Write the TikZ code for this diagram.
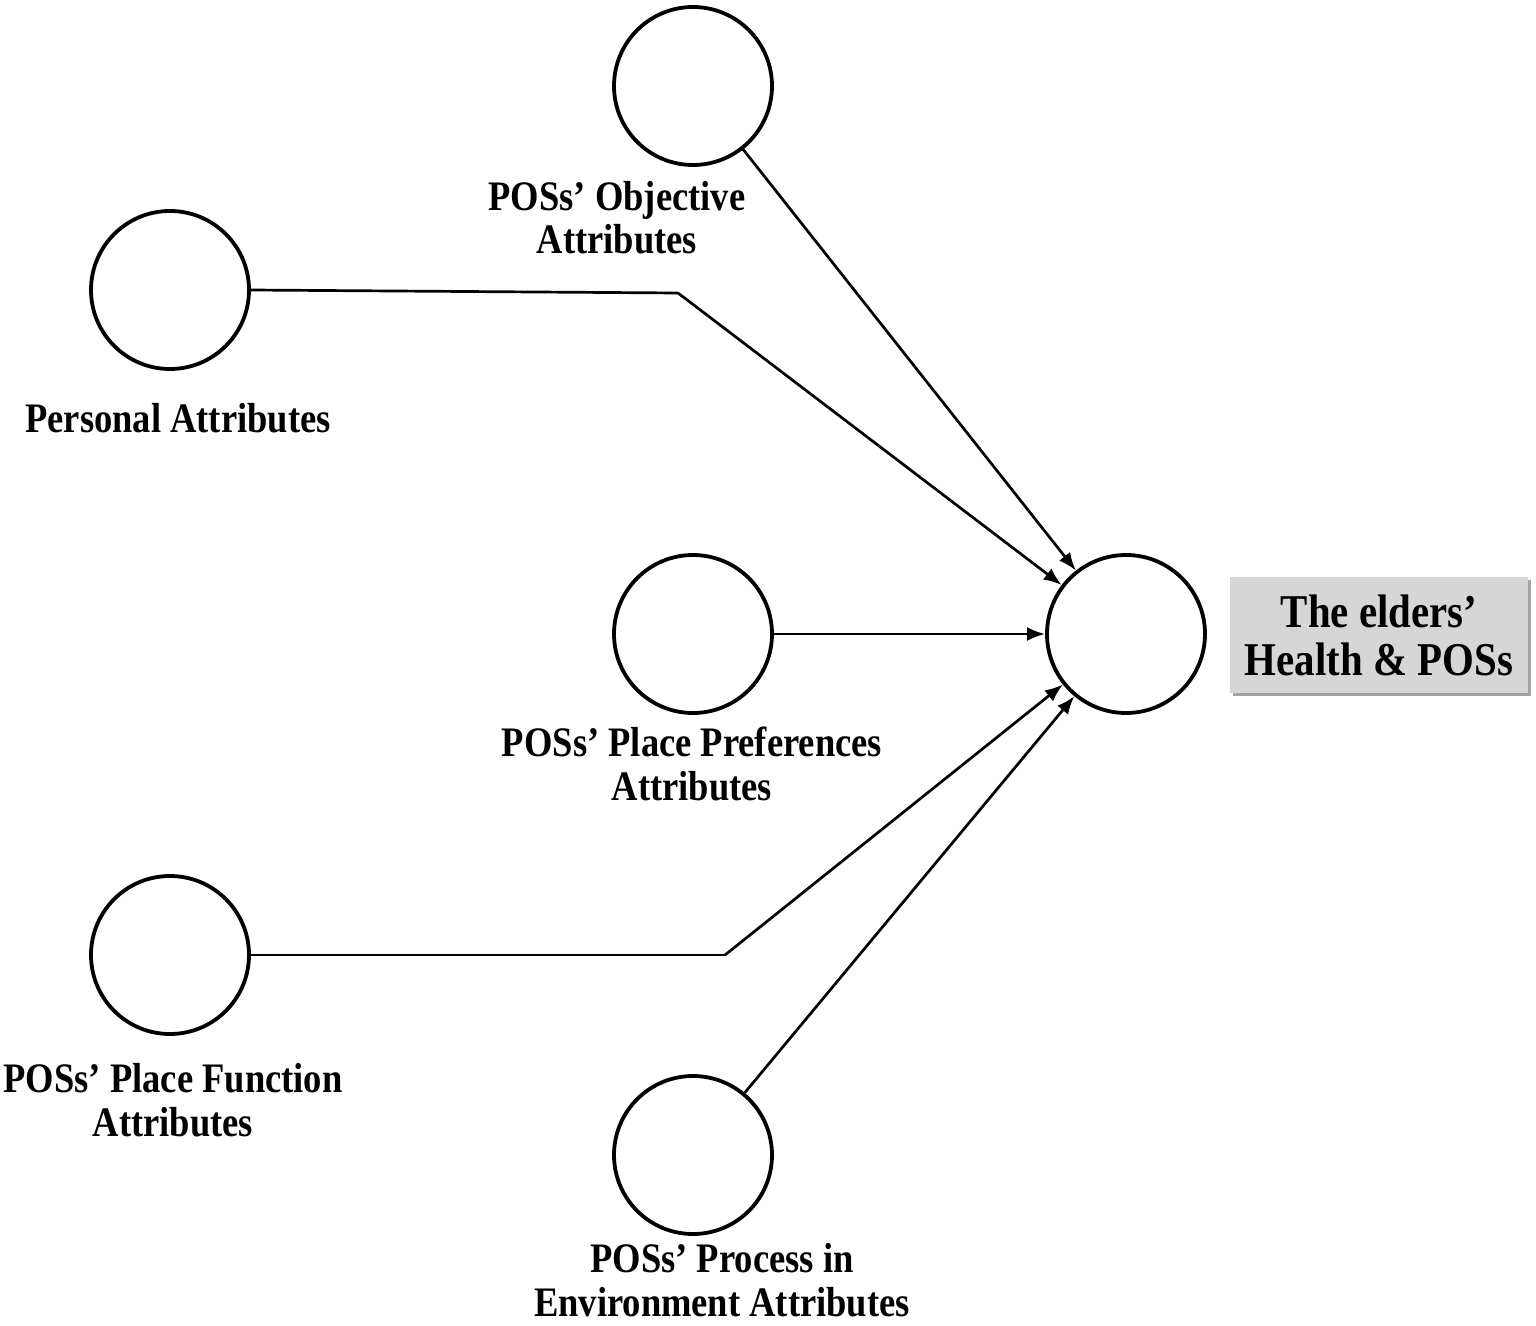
\documentclass[tikz,border=0pt]{standalone}
\usepackage{fontspec}
\setmainfont{Liberation Serif}[FakeStretch=0.87]
\usetikzlibrary{arrows.meta,shadows}
\begin{document}
\begin{tikzpicture}[x=0.5pt,y=-0.5pt,
  latent/.style={circle,draw=black,line width=1.9pt,minimum size=79pt,inner sep=0pt,fill=white},
  lbl/.style={anchor=base,align=center,inner sep=0pt,font=\bfseries\fontsize{21}{21.7}\selectfont},
  conn/.style={line width=1.35pt,draw=black},
  arr/.style={conn,-{Latex[length=9pt,width=7pt]}},
  outbox/.style={fill=black!16,draw=none,minimum width=149pt,minimum height=58pt,inner sep=0pt,align=center,
    font=\bfseries\fontsize{23.5}{24}\selectfont,
    drop shadow={shadow xshift=1.3pt,shadow yshift=-1.5pt,fill=black!45,opacity=0.8}}]
\useasboundingbox (0,0) rectangle (1536,1326);
\node[latent] (top) at (693,86) {};
\node[latent] (pers) at (170,290) {};
\node[latent] (pref) at (693,634) {};
\node[latent] (func) at (170,955) {};
\node[latent] (proc) at (693,1155) {};
\node[latent] (tgt) at (1126,634) {};
\node[outbox] (res) at (1379,635) {The elders'\\Health \& POSs};
\node[lbl] (ltop) at (617,254) {POSs' Objective\\Attributes};
\node[lbl] (lpers) at (178,432) {Personal Attributes};
\node[lbl] (lpref) at (692,800) {POSs' Place Preferences\\Attributes};
\node[lbl] (lfunc) at (173,1136) {POSs' Place Function\\Attributes};
\node[lbl] (lproc) at (722,1316) {POSs' Process in\\Environment Attributes};
\coordinate (b1) at (678,293);
\coordinate (b2) at (725,955);
\draw[conn] (pers.east) -- (b1);
\draw[arr] (b1) -- (tgt);
\draw[arr] (top) -- (tgt);
\draw[arr] (pref) -- (tgt);
\draw[conn] (func.east) -- (b2);
\draw[arr] (b2) -- (tgt);
\draw[arr] (proc) -- (tgt);
\end{tikzpicture}
\end{document}
